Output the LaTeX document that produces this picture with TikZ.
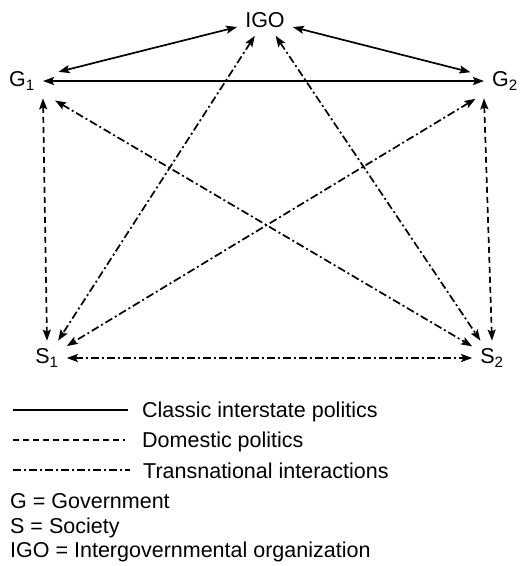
\documentclass[tikz,border=0pt]{standalone}
\usepackage{fontspec}
\setmainfont{Liberation Sans}
\usetikzlibrary{positioning,arrows.meta}

\begin{document}
\begin{tikzpicture}[
  x=1pt, y=-1pt,
  actor/.style={inner sep=8pt, font=\fontsize{21.5}{26}\selectfont},
  keytext/.style={anchor=base west, inner sep=0pt, font=\fontsize{21.5}{26}\selectfont},
  lnk/.style={line width=1.7pt},
  classic/.style={lnk},
  domestic/.style={lnk, dash pattern=on 6pt off 4pt},
  transnat/.style={lnk, dash pattern=on 8pt off 3pt on 2pt off 3pt},
  arrow/.style={{Stealth[length=11pt,width=8pt,inset=2pt]}-{Stealth[length=11pt,width=8pt,inset=2pt]}},
]
\useasboundingbox (0,0) rectangle (523,566);
% actors
\node[actor] (igo) at (265,20) {IGO};
\node[actor] (g1) at (22,81) {G\textsubscript{1}};
\node[actor] (g2) at (505,81) {G\textsubscript{2}};
\node[actor] (s1) at (47,358) {S\textsubscript{1}};
\node[actor] (s2) at (492,358) {S\textsubscript{2}};
% classic interstate politics
\draw[classic, arrow, shorten <=16pt] (g1) -- (igo);
\draw[classic, arrow, shorten <=14pt] (g2) -- (igo);
\draw[classic, arrow] (g1) -- (g2);
% domestic politics
\draw[domestic, arrow] (g1.south east) -- (s1.north);
\draw[domestic, arrow] (g2.south west) -- (s2.north);
% transnational interactions
\draw[transnat, arrow] (s1) -- (s2);
\draw[transnat, arrow] (igo) -- (s1);
\draw[transnat, arrow] (igo) -- (s2);
\draw[transnat, arrow, shorten <=14pt] (g1) -- (s2);
\draw[transnat, arrow, shorten <=10pt] (g2) -- (s1);
% key
\coordinate (k1) at (13,410);
\coordinate (k2) at (13,440);
\coordinate (k3) at (13,470);
\node[keytext] (t1) at (142,417) {Classic interstate politics};
\node[keytext] (t2) at (142,447) {Domestic politics};
\node[keytext] (t3) at (143,478) {Transnational interactions};
\draw[classic, shorten >=14pt] (k1) -- (k1 -| t1.west);
\draw[domestic, shorten >=17pt] (k2) -- (k2 -| t2.west);
\draw[transnat, shorten >=13pt] (k3) -- (k3 -| t3.west);
\node[keytext] (gov) at (10,508) {G = Government};
\node[keytext] (soc) at (10,533) {S = Society};
\node[keytext] (org) at (10,557) {IGO = Intergovernmental organization};
\end{tikzpicture}
\end{document}
